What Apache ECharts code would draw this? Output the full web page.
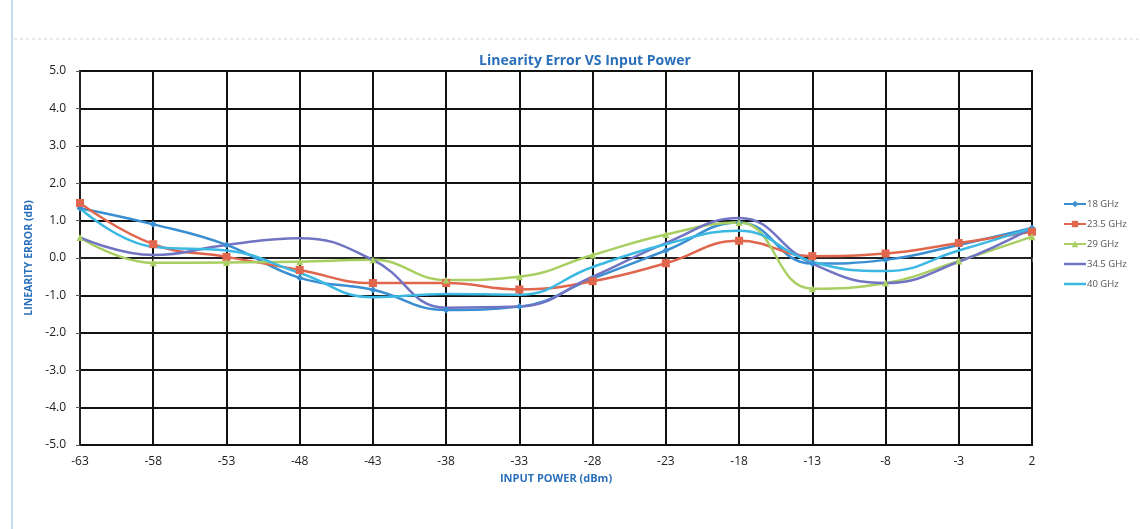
<!DOCTYPE html>
<html><head><meta charset="utf-8">
<script src="https://cdn.jsdelivr.net/npm/echarts@6/dist/echarts.min.js"></script>
<style>html,body{margin:0;padding:0;background:#fff}#c{width:1140px;height:529px}</style>
</head><body><div id="c"></div>
<script>
const categories = ['-63','-58','-53','-48','-43','-38','-33','-28','-23','-18','-13','-8','-3','2'];
const s18   = [1.33, 0.9, 0.35, -0.53, -0.85, -1.39, -1.3, -0.55, 0.2, 0.95, -0.15, -0.05, 0.35, 0.8];
const s23_5 = [1.47, 0.37, 0.03, -0.32, -0.67, -0.67, -0.84, -0.62, -0.14, 0.46, 0.05, 0.12, 0.4, 0.7];
const s29   = [0.55, -0.13, -0.12, -0.1, -0.05, -0.59, -0.5, 0.08, 0.63, 0.95, -0.82, -0.67, -0.08, 0.57];
const s34_5 = [0.55, 0.08, 0.35, 0.53, -0.05, -1.33, -1.3, -0.5, 0.4, 1.07, -0.15, -0.67, -0.1, 0.8];
const s40   = [1.33, 0.3, 0.2, -0.4, -1.05, -0.96, -0.98, -0.24, 0.37, 0.73, -0.1, -0.35, 0.2, 0.8];
const seriesNames = ['18 GHz','23.5 GHz','29 GHz','34.5 GHz','40 GHz'];
const yTicks = {min:-5, max:5, interval:1};

const colors = ['#3a8fd2','#e0674e','#a9cf62','#7174c2','#3cb8e2'];
const symbols = ['diamond','rect','triangle','none','none'];
const data = [s18, s23_5, s29, s34_5, s40];
const lineIcon = 'path://M0 4 L22 4 L22 6.5 L0 6.5 Z';

const chart = echarts.init(document.getElementById('c'));
chart.setOption({
  animation:false,
  title:{text:'Linearity Error VS Input Power', left:580, top:49, textAlign:'center',
    textStyle:{color:'#2a6fba', fontSize:14, fontWeight:'bold', fontFamily:'Open Sans'}},
  legend:{orient:'vertical', left:1058, top:194, itemWidth:22, itemHeight:8, itemGap:10,
    data:seriesNames.map((n,i)=> symbols[i]==='none' ? {name:n, icon:lineIcon} : {name:n}),
    textStyle:{fontSize:9.5, color:'#555', fontFamily:'Open Sans', padding:[0,0,0,-4]}},
  grid:{left:80, right:108, top:71, bottom:84},
  xAxis:{type:'category', data:categories, boundaryGap:false,
    name:'INPUT POWER (dBm)', nameLocation:'middle', nameGap:28,
    nameTextStyle:{color:'#2a6fba', fontWeight:'bold', fontSize:11, fontFamily:'Open Sans'},
    axisLine:{lineStyle:{color:'#222', width:2}},
    axisTick:{show:true, alignWithLabel:true, length:4, lineStyle:{color:'#555'}},
    axisLabel:{color:'#222', fontSize:12, fontFamily:'Open Sans', margin:11},
    splitLine:{show:true, lineStyle:{color:'#111', width:2}}},
  yAxis:{type:'value', min:yTicks.min, max:yTicks.max, interval:yTicks.interval,
    name:'LINEARITY ERROR (dB)', nameLocation:'middle', nameGap:42, nameRotate:90,
    nameTextStyle:{color:'#2a6fba', fontWeight:'bold', fontSize:10.5, fontFamily:'Open Sans'},
    axisLine:{show:true, lineStyle:{color:'#222', width:2}},
    axisTick:{show:true, length:4, lineStyle:{color:'#555'}},
    axisLabel:{color:'#222', fontSize:12, fontFamily:'Open Sans', margin:14,
      formatter:v=>v.toFixed(1)},
    splitLine:{show:true, lineStyle:{color:'#111', width:2}}},
  graphic:[
    {type:'line', shape:{x1:12,y1:0,x2:12,y2:529}, style:{stroke:'#8fb6dc', lineWidth:1}},
    {type:'line', shape:{x1:14,y1:39,x2:1140,y2:39}, style:{stroke:'#c8d8dc', lineWidth:1, lineDash:[3,3]}},
    {type:'rect', shape:{x:80,y:71,width:952,height:374}, style:{fill:'none', stroke:'#111', lineWidth:2}}
  ],
  series: data.map((d,i)=>({
    name:seriesNames[i], type:'line', data:d, smooth:0.45,
    symbol:symbols[i], symbolSize: i===1?8:7, showSymbol: symbols[i]!=='none',
    lineStyle:{color:colors[i], width:2.5},
    itemStyle:{color:colors[i]}
  }))
});
</script></body></html>
